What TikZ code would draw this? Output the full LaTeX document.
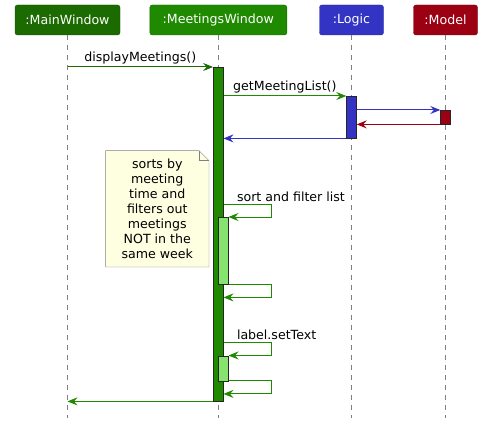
\documentclass[tikz,border=0pt]{standalone}
\usepackage{fontspec}
\setmainfont{DejaVu Sans}
\usetikzlibrary{arrows.meta,backgrounds}
\definecolor{mainwin}{HTML}{1B6B00}
\definecolor{meetwin}{HTML}{1F8A00}
\definecolor{logic}{HTML}{3333C4}
\definecolor{model}{HTML}{9C0013}
\definecolor{nested}{HTML}{86E46E}
\definecolor{notebg}{HTML}{FEFEE0}
\begin{document}
\begin{tikzpicture}[x=1pt,y=-1pt,
  font=\fontsize{12.6}{15}\selectfont,
  actor/.style={draw=#1!75!black, fill=#1, rounded corners=2.5pt, text=white,
    minimum height=30, inner sep=0pt},
  lifeline/.style={draw=gray, dash pattern=on 5pt off 5pt},
  bar/.style={draw=black!85, minimum width=10, inner sep=0pt, anchor=north},
  msg/.style={-{Stealth[length=10pt,width=8pt,inset=3.5pt]}, line width=1pt},
  lbl/.style={anchor=south west, inner sep=2pt, text=black}]
  \useasboundingbox (0,0) rectangle (482,425);

  % participants
  \node [actor=mainwin, minimum width=105] (mw) at (67.5,20) {:MainWindow};
  \node [actor=meetwin, minimum width=137] (mtw) at (218.3,20) {:MeetingsWindow};
  \node [actor=logic, minimum width=64] (lg) at (351.5,20) {:Logic};
  \node [actor=model, minimum width=64] (md) at (445.5,20) {:Model};

  \foreach \p/\x in {mw/67.5, mtw/218.3, lg/351.5, md/445.5} {
    \coordinate (\p end) at (\x,418);
    \draw [lifeline] (\p) -- (\p end);
  }

  % activation bars
  \node [bar, fill=meetwin, minimum height=334] (mtwbar) at (218.3,67) {};
  \node [bar, fill=logic, minimum height=42] (lgbar) at (351.5,96) {};
  \node [bar, fill=model, minimum height=14] (mdbar) at (445.5,110) {};
  \node [bar, fill=nested, minimum height=67] (nest1) at (223.3,217) {};
  \node [bar, fill=nested, minimum height=25] (nest2) at (223.3,355.5) {};

  \coordinate (mw call) at (mw |- mtwbar.north);
  \draw [msg, mainwin] (mw call) -- (mtwbar.north west)
    node (dispmsg) [midway, above, inner sep=2pt, text=black] {displayMeetings()};
  \draw [msg, meetwin] (mtwbar.east |- lgbar.north) -- (lgbar.north west)
    node (getmsg) [midway, above, inner sep=2pt, text=black] {getMeetingList()};
  \draw [msg, logic] (lgbar.east |- mdbar.north) -- (mdbar.north west);
  \draw [msg, model] (mdbar.south west) -- (lgbar.east |- mdbar.south);
  \draw [msg, logic] (lgbar.south west) -- (mtwbar.east |- lgbar.south);

  % sort and filter
  \draw [msg, meetwin] (mtwbar.east |- nest1.north) ++(0,-13)
    node (sortmsg) [lbl, xshift=11pt] {sort and filter list}
    -- ++(47.5,0) |- (nest1.north east);
  \draw [msg, meetwin] (nest1.south east) -- ++(42.5,0) -- ++(0,13) -- ++(-47.5,0);

  % set text
  \draw [msg, meetwin] (mtwbar.east |- nest2.north) ++(0,-13)
    node (setmsg) [lbl, xshift=11pt] {label.setText}
    -- ++(47.5,0) |- (nest2.north east);
  \draw [msg, meetwin] (nest2.south east) -- ++(42.5,0) -- ++(0,13) -- ++(-47.5,0);

  \draw [msg, meetwin] (mtwbar.south west) -- (mw |- mtwbar.south);

  % note
  \node (sortnote) [minimum width=103, minimum height=116, align=center, inner sep=0pt]
    at (157.3,208.8) {sorts by\\meeting\\time and\\filters out\\meetings\\NOT in the\\same week};
  \begin{scope}[on background layer]
    \draw [draw=black!50, fill=notebg] (sortnote.north west) -- ([xshift=-10pt]sortnote.north east)
      -- ([yshift=-10pt]sortnote.north east) -- (sortnote.south east) -- (sortnote.south west) -- cycle;
    \draw [draw=black!50] ([xshift=-10pt]sortnote.north east) |- ([yshift=-10pt]sortnote.north east);
  \end{scope}
\end{tikzpicture}
\end{document}
